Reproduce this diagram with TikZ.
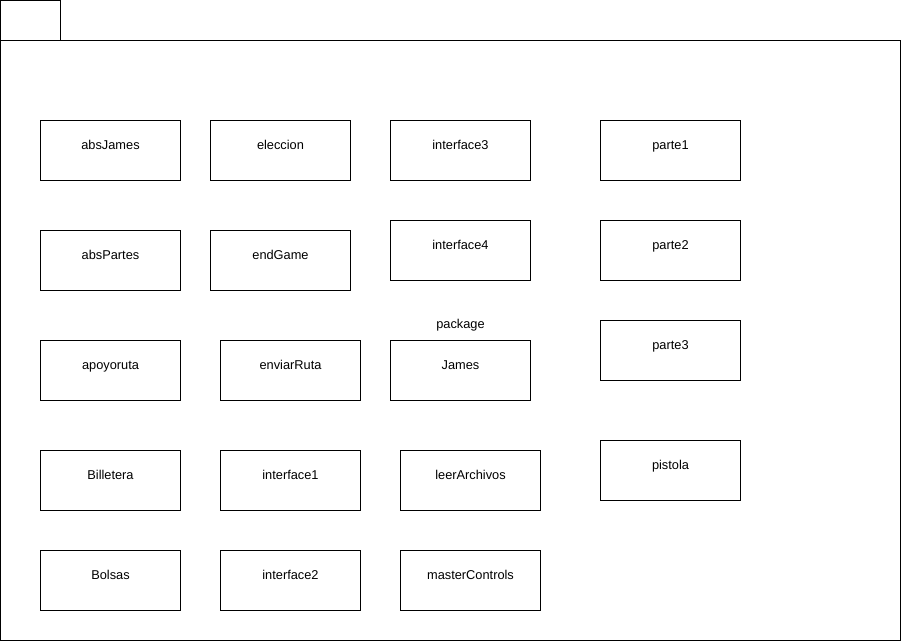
\documentclass[tikz,border=0pt]{standalone}
\usepackage{fontspec}
\setmainfont{Liberation Sans}
\begin{document}
\begin{tikzpicture}[x=1pt,y=-1pt,line width=1pt,
  cls/.style={draw=black,rectangle,minimum width=140pt,minimum height=60pt,inner sep=0pt,anchor=north west},
  lbl/.style={font=\fontsize{12.8pt}{15pt}\selectfont,inner sep=0pt,text=black,anchor=base}]
\useasboundingbox (0,0) rectangle (901,641);
\draw (0.5,0.5) rectangle (60,40);
\draw (0.5,40) rectangle (900,640);
\foreach \n/\x/\y/\t in {
  absJames/40/120/absJames, eleccion/210/120/eleccion, interfaceC/390/120/interface3, parteA/600/120/parte1,
  absPartes/40/230/absPartes, endGame/210/230/endGame, interfaceD/390/220/interface4, parteB/600/220/parte2,
  apoyoruta/40/340/apoyoruta, enviarRuta/220/340/enviarRuta, James/390/340/James, parteC/600/320/parte3,
  Billetera/40/450/Billetera, interfaceA/220/450/interface1, leerArchivos/400/450/leerArchivos, pistola/600/440/pistola,
  Bolsas/40/550/Bolsas, interfaceB/220/550/interface2, masterControls/400/550/masterControls}{
  \node[cls] (\n) at (\x,\y) {};
  \node[lbl] (\n-t) at ([yshift=1.5pt]\n.center) {\t};
}
\node[lbl] (pkg) at ([yshift=11.5pt]James.north) {package};
\end{tikzpicture}
\end{document}
